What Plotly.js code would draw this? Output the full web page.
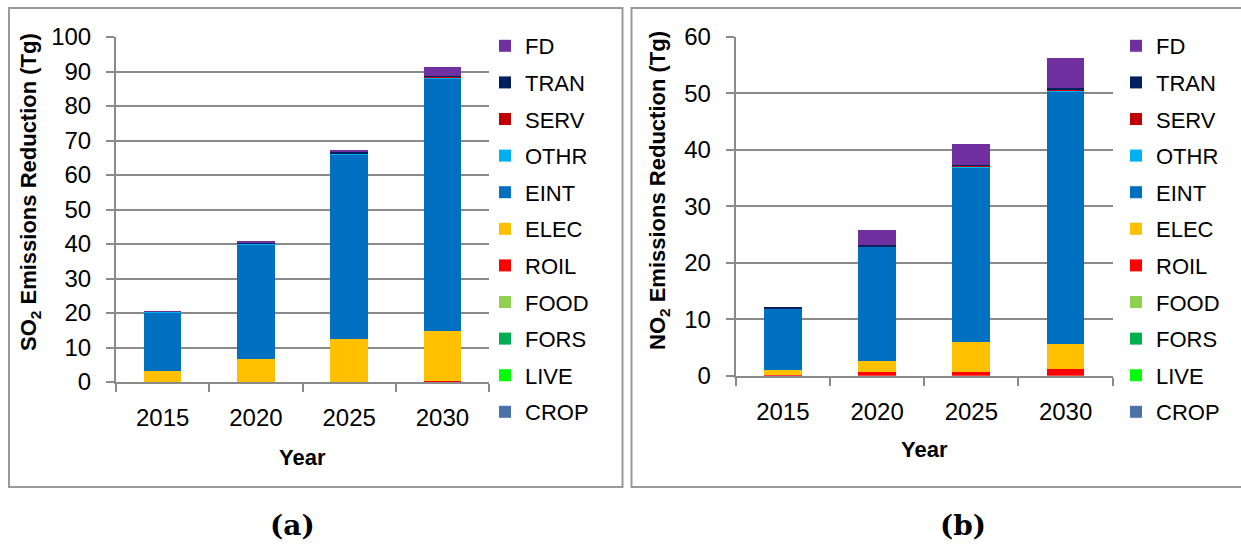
<!DOCTYPE html>
<html>
<head>
<meta charset="utf-8">
<script src="https://cdn.plot.ly/plotly-3.0.1.min.js"></script>
<style>html,body{margin:0;padding:0;background:#fff}#chart{width:1241px;height:545px}</style>
</head>
<body>
<div id="chart"></div>
<script>
// Categories and sectors (stacking order bottom -> top)
const years = ['2015', '2020', '2025', '2030'];
const sectors = ['CROP', 'LIVE', 'FORS', 'FOOD', 'ROIL', 'ELEC', 'EINT', 'OTHR', 'SERV', 'TRAN', 'FD'];
const sectorColors = ['#4A72A8', '#00FF00', '#00B050', '#92D050', '#FF0000', '#FFC000', '#0070C0', '#00B0F0', '#C00000', '#002060', '#7030A0'];

// (a) SO2 emissions reduction (Tg)
const so2_CROP = [0, 0, 0, 0];
const so2_LIVE = [0, 0, 0, 0];
const so2_FORS = [0, 0, 0, 0];
const so2_FOOD = [0, 0, 0, 0];
const so2_ROIL = [0.05, 0.05, 0.1, 0.4];
const so2_ELEC = [3.0, 6.6, 12.4, 14.3];
const so2_EINT = [17.2, 33.2, 53.4, 73.25];
const so2_OTHR = [0.1, 0.3, 0.4, 0.4];
const so2_SERV = [0.02, 0.05, 0.05, 0.1];
const so2_TRAN = [0.05, 0.15, 0.25, 0.35];
const so2_FD = [0.05, 0.55, 0.75, 2.6];

// (b) NO2 emissions reduction (Tg)
const no2_CROP = [0, 0, 0, 0];
const no2_LIVE = [0, 0, 0, 0];
const no2_FORS = [0, 0, 0, 0];
const no2_FOOD = [0, 0, 0, 0];
const no2_ROIL = [0.05, 0.6, 0.7, 1.1];
const no2_ELEC = [0.9, 2.0, 5.2, 4.6];
const no2_EINT = [10.9, 20.2, 31.0, 44.7];
const no2_OTHR = [0.05, 0.1, 0.1, 0.2];
const no2_SERV = [0.02, 0.05, 0.3, 0.1];
const no2_TRAN = [0.1, 0.2, 0.1, 0.3];
const no2_FD = [0, 2.7, 3.7, 5.2];

const so2Series = [so2_CROP, so2_LIVE, so2_FORS, so2_FOOD, so2_ROIL, so2_ELEC, so2_EINT, so2_OTHR, so2_SERV, so2_TRAN, so2_FD];
const no2Series = [no2_CROP, no2_LIVE, no2_FORS, no2_FOOD, no2_ROIL, no2_ELEC, no2_EINT, no2_OTHR, no2_SERV, no2_TRAN, no2_FD];

const W = 1241, H = 545;
const px = v => v / W;
const py = v => (H - v) / H;
const FONT = 'Liberation Sans, Arial, sans-serif';
const GRID = '#8a8a8a';

const traces = [];
sectors.forEach((s, i) => {
  traces.push({
    type: 'bar', name: s, x: years, y: so2Series[i],
    xaxis: 'x', yaxis: 'y', legend: 'legend', legendgroup: 'a' + s,
    legendrank: sectors.length - i,
    marker: {color: sectorColors[i], line: {width: 0}}
  });
});
sectors.forEach((s, i) => {
  traces.push({
    type: 'bar', name: s, x: years, y: no2Series[i],
    xaxis: 'x2', yaxis: 'y2', legend: 'legend2', legendgroup: 'b' + s,
    legendrank: sectors.length - i,
    marker: {color: sectorColors[i], line: {width: 0}}
  });
});

const xax = dom => ({
  domain: dom, type: 'category', tickson: 'boundaries', ticks: 'outside', ticklen: 8,
  tickcolor: GRID, tickwidth: 2, showline: true, linecolor: GRID, linewidth: 2,
  showgrid: false, tickfont: {family: FONT, size: 24, color: '#000'}, ticklabelstandoff: 13,
  fixedrange: true
});
const yax = (dom, range, dtick, anchor) => ({
  domain: dom, range: range, dtick: dtick, anchor: anchor, ticks: 'outside', ticklen: 8,
  tickcolor: GRID, tickwidth: 2, showline: true, linecolor: GRID, linewidth: 2,
  showgrid: true, gridcolor: GRID, gridwidth: 2, zeroline: false,
  tickfont: {family: FONT, size: 24, color: '#000'}, ticklabelstandoff: 10, fixedrange: true
});

const legendBase = {
  traceorder: 'grouped', font: {family: FONT, size: 22, color: '#000'},
  tracegroupgap: 5, bgcolor: 'rgba(0,0,0,0)', xanchor: 'left', yanchor: 'top',
  itemclick: false, itemdoubleclick: false
};

const layout = {
  width: W, height: H, margin: {l: 0, r: 0, t: 0, b: 0},
  paper_bgcolor: '#fff', plot_bgcolor: '#fff', barmode: 'stack', bargap: 0.6,
  showlegend: true,
  xaxis: Object.assign(xax([px(116), px(489)]), {anchor: 'y'}),
  yaxis: yax([py(382), py(37)], [0, 100], 10, 'x'),
  xaxis2: Object.assign(xax([px(735.7), px(1112.7)]), {anchor: 'y2'}),
  yaxis2: yax([py(375.7), py(37)], [0, 60], 10, 'x2'),
  legend: Object.assign({}, legendBase, {x: px(485), y: py(25)}),
  legend2: Object.assign({}, legendBase, {x: px(1116), y: py(25)}),
  shapes: [
    {type: 'rect', xref: 'paper', yref: 'paper', x0: px(9), x1: px(622.5), y0: py(487), y1: py(8),
     line: {color: '#9a9a9a', width: 2}},
    {type: 'rect', xref: 'paper', yref: 'paper', x0: px(631.5), x1: px(1245), y0: py(487), y1: py(8),
     line: {color: '#9a9a9a', width: 2}}
  ],
  annotations: [
    {text: '<b>SO<sub>2</sub> Emissions Reduction (Tg)</b>', xref: 'paper', yref: 'paper',
     x: px(30), y: py(192), textangle: -90, showarrow: false, xanchor: 'center', yanchor: 'middle',
     font: {family: FONT, size: 22, color: '#000'}},
    {text: '<b>NO<sub>2</sub> Emissions Reduction (Tg)</b>', xref: 'paper', yref: 'paper',
     x: px(659), y: py(191), textangle: -90, showarrow: false, xanchor: 'center', yanchor: 'middle',
     font: {family: FONT, size: 22, color: '#000'}},
    {text: '<b>Year</b>', xref: 'paper', yref: 'paper', x: px(302.7), y: py(458), showarrow: false,
     xanchor: 'center', yanchor: 'middle', font: {family: FONT, size: 22, color: '#000'}},
    {text: '<b>Year</b>', xref: 'paper', yref: 'paper', x: px(924), y: py(450), showarrow: false,
     xanchor: 'center', yanchor: 'middle', font: {family: FONT, size: 22, color: '#000'}},
    {text: '<b>(a)</b>', xref: 'paper', yref: 'paper', x: px(292), y: py(525), showarrow: false,
     xanchor: 'center', yanchor: 'middle', font: {family: 'DejaVu Serif, serif', size: 28, color: '#000'}},
    {text: '<b>(b)</b>', xref: 'paper', yref: 'paper', x: px(963), y: py(525), showarrow: false,
     xanchor: 'center', yanchor: 'middle', font: {family: 'DejaVu Serif, serif', size: 28, color: '#000'}}
  ]
};

Plotly.newPlot('chart', traces, layout, {displayModeBar: false});
</script>
</body>
</html>
